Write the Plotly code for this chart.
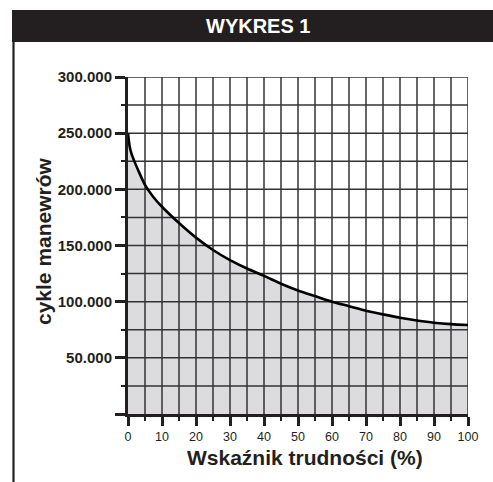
import plotly.graph_objects as go

# Durability curve: number of cycles vs. difficulty index
difficulty = [0, 0.5, 1, 2, 3, 5, 7.5, 10, 15, 20, 25, 30, 35, 40, 45, 50,
              55, 60, 65, 70, 75, 80, 85, 90, 95, 100]
cycles = [250000, 238000, 232000, 224000, 217000, 204000, 193000, 184500,
          170000, 157000, 146000, 137000, 129500, 123000, 116000, 110000,
          105000, 100000, 96000, 92000, 88700, 85700, 83300, 81300, 80000, 79200]

x_ticks = list(range(0, 101, 10))
x_minor = list(range(5, 100, 10))
y_ticks = [0, 50000, 100000, 150000, 200000, 250000, 300000]
y_tick_text = ["", "50.000", "100.000", "150.000", "200.000", "250.000", "300.000"]
y_minor = list(range(25000, 300000, 50000))

X_MAX, Y_MAX = 100, 300000
INK = "#231f20"
GRID = "#333333"
FILL = "#dcdcdf"
FONT = "Liberation Sans, Arial"

fig = go.Figure()

# shaded area under the curve
fig.add_trace(go.Scatter(
    x=difficulty, y=cycles, mode="lines", line=dict(width=0, shape="spline"),
    fill="tozeroy", fillcolor=FILL, hoverinfo="skip", showlegend=False))

# grid drawn over the shaded area
gx, gy = [], []
for v in sorted(x_ticks + x_minor):
    if v == 0:
        continue
    gx += [v, v, None]
    gy += [0, Y_MAX, None]
for v in sorted(y_ticks + y_minor):
    if v == 0:
        continue
    gx += [0, X_MAX, None]
    gy += [v, v, None]
fig.add_trace(go.Scatter(x=gx, y=gy, mode="lines",
                         line=dict(color=GRID, width=1.5),
                         hoverinfo="skip", showlegend=False))

# the curve itself
fig.add_trace(go.Scatter(
    x=difficulty, y=cycles, mode="lines",
    line=dict(color="#000000", width=2.6, shape="spline", smoothing=0.8),
    showlegend=False))

fig.update_xaxes(
    range=[0, X_MAX], tickvals=x_ticks, ticks="outside", ticklen=9,
    tickwidth=2.5, tickcolor=INK, showgrid=False, zeroline=False,
    showline=True, linewidth=3, linecolor=INK,
    minor=dict(tickvals=x_minor, ticks="outside", ticklen=4, tickwidth=1.5,
               tickcolor=INK, showgrid=False),
    tickfont=dict(family=FONT, size=12.5, color=INK))

fig.update_yaxes(
    range=[0, Y_MAX], tickvals=y_ticks, ticktext=y_tick_text,
    ticks="outside", ticklen=10, tickwidth=2.5, tickcolor=INK,
    showgrid=False, zeroline=False, showline=True, linewidth=3,
    linecolor=INK,
    minor=dict(tickvals=y_minor, ticks="outside", ticklen=4, tickwidth=1.5,
               tickcolor=INK, showgrid=False),
    tickfont=dict(family=FONT, size=15, color=INK, weight="bold"))

L, R, T, B = 128, 25, 77, 68
W, H = 493, 482
pw, ph = W - L - R, H - T - B


def px_x(p):
    return (p - L) / pw


def px_y(p):
    return (H - B - p) / ph


fig.update_layout(
    width=W, height=H, margin=dict(l=L, r=R, t=T, b=B),
    paper_bgcolor="white", plot_bgcolor="white",
    shapes=[
        # header band
        dict(type="rect", xref="paper", yref="paper",
             x0=px_x(12), x1=px_x(500), y0=px_y(42), y1=px_y(10),
             fillcolor=INK, line=dict(width=0), layer="below"),
        # left frame line
        dict(type="line", xref="paper", yref="paper",
             x0=px_x(13.5), x1=px_x(13.5), y0=px_y(42), y1=px_y(490),
             line=dict(color=INK, width=2.2)),
    ],
    annotations=[
        dict(text="WYKRES 1", xref="paper", yref="paper",
             x=px_x(258), y=px_y(26), showarrow=False,
             xanchor="center", yanchor="middle",
             font=dict(family=FONT, size=20, color="white", weight="bold")),
        dict(text="Wskaźnik trudności (%)", xref="paper", yref="paper",
             x=px_x(305), y=px_y(457), showarrow=False,
             xanchor="center", yanchor="middle",
             font=dict(family=FONT, size=21, color=INK, weight="bold")),
        dict(text="cykle manewrów", xref="paper", yref="paper",
             x=px_x(43), y=px_y(241), showarrow=False, textangle=-90,
             xanchor="center", yanchor="middle",
             font=dict(family=FONT, size=21, color=INK, weight="bold")),
    ],
)

fig.write_html("out.html")
